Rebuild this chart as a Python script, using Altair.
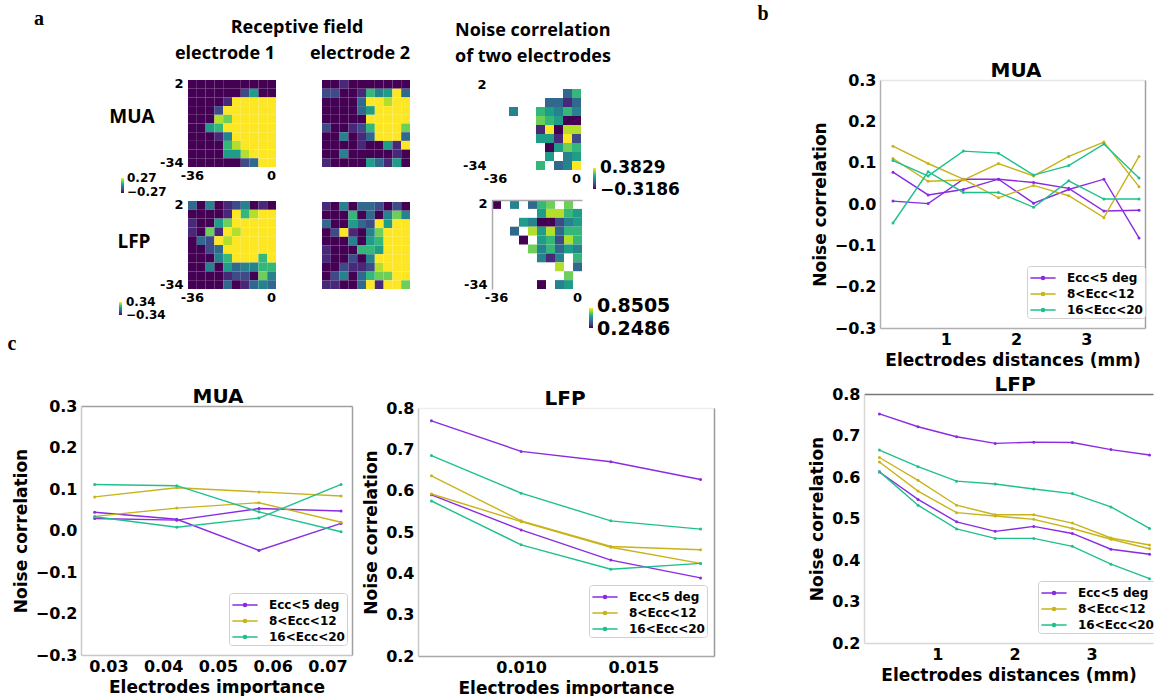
import altair as alt
import pandas as pd

W, H = 1154, 696

# ---------------- panel a: heat-map cells ----------------
cells_x = [-36, -32, -28, -24, -20, -16, -12, -8, -4, 0]
cells_y = [2, -2, -6, -10, -14, -18, -22, -26, -30, -34]

# colour level read per cell (0 = darkest viridis ... 9 = yellow), '.' = empty cell
rf_mua_e1 = ["0000000000", "0000002500", "0000199999", "0002999999", "0008799999",
             "0056999999", "0001499999", "0000689999", "0000558999", "0000002399"]
rf_mua_e2 = ["0010000000", "2200164593", "0000399899", "0000359999", "0000099999",
             "2001269997", "0040139993", "0000100519", "0040000010", "1000053150"]
rf_lfp_e1 = ["3040124010", "0000196899", "1005799999", "1071989999", "0329899999",
             "0023999999", "0004699969", "0040534466", "0000122074", "0000301343"]
rf_lfp_e2 = ["1040332020", "0006030474", "3005329599", "0291047999", "0004056999",
             "1000665999", "1002049999", "0021128999", "0240367799", "1100391997"]
nc_mua = ["..........", "........36", "......3313", "..4..65464", ".....76500",
          ".....19088", ".....55192", "......0576", "......5.45", ".....6.349"]
nc_lfp = ["0.4.367.7.", ".....58865", "...5400245", "..3.858366", "...0.56286",
          "....746354", ".....414.6", ".......8.3", "........7.", ".....0.45."]

mua_rf_range = [-0.27, 0.27]
lfp_rf_range = [-0.34, 0.34]
mua_nc_range = [-0.3186, 0.3829]
lfp_nc_range = [0.2486, 0.8505]

# ---------------- panels b and c: line data ----------------
groups = ["Ecc<5 deg", "8<Ecc<12", "16<Ecc<20"]
colors = ["#8a2be2", "#c8b31b", "#1fc08e"]

b_dist = [0.25, 0.75, 1.25, 1.75, 2.25, 2.75, 3.25, 3.75]
b_mua = [
    [[0.077, 0.022, 0.035, 0.060, 0.002, 0.035, 0.060, -0.082],
     [0.007, 0.001, 0.060, 0.060, 0.052, 0.038, -0.017, -0.015]],
    [[0.140, 0.098, 0.060, 0.015, 0.045, 0.020, -0.033, 0.115],
     [0.110, 0.055, 0.058, 0.098, 0.068, 0.115, 0.150, 0.042]],
    [[0.105, 0.068, 0.128, 0.123, 0.070, 0.093, 0.145, 0.063],
     [-0.046, 0.078, 0.028, 0.028, -0.008, 0.056, 0.012, 0.012]],
]
b_lfp = [
    [[0.752, 0.721, 0.697, 0.681, 0.684, 0.683, 0.666, 0.653],
     [0.612, 0.546, 0.492, 0.469, 0.481, 0.464, 0.426, 0.414]],
    [[0.647, 0.592, 0.532, 0.509, 0.509, 0.489, 0.453, 0.436],
     [0.636, 0.566, 0.514, 0.506, 0.498, 0.476, 0.450, 0.427]],
    [[0.665, 0.625, 0.590, 0.583, 0.571, 0.560, 0.528, 0.476],
     [0.613, 0.532, 0.475, 0.452, 0.452, 0.433, 0.390, 0.355]],
]
c_imp_mua = [0.0275, 0.0425, 0.0575, 0.0725]
c_mua = [
    [[0.044, 0.027, -0.048, 0.017], [0.029, 0.025, 0.053, 0.047]],
    [[0.081, 0.103, 0.093, 0.083], [0.034, 0.054, 0.067, 0.020]],
    [[0.111, 0.108, 0.045, -0.003], [0.033, 0.008, 0.030, 0.111]],
]
c_imp_lfp = [0.006, 0.010, 0.014, 0.018]
c_lfp = [
    [[0.769, 0.695, 0.670, 0.627], [0.590, 0.505, 0.432, 0.389]],
    [[0.636, 0.527, 0.465, 0.457], [0.592, 0.525, 0.463, 0.424]],
    [[0.685, 0.594, 0.527, 0.507], [0.575, 0.469, 0.410, 0.424]],
]

mua_ticks = [-0.3, -0.2, -0.1, 0.0, 0.1, 0.2, 0.3]
lfp_ticks = [0.2, 0.3, 0.4, 0.5, 0.6, 0.7, 0.8]


# ---------------- helpers ----------------
def grid_frame(grid, rng):
    lo, hi = rng
    recs = []
    for r, row in enumerate(grid):
        for c, ch in enumerate(row):
            if ch != ".":
                recs.append({"xc": cells_x[c], "yc": cells_y[r],
                             "v": lo + (hi - lo) * int(ch) / 9})
    return pd.DataFrame(recs)


HLAB = dict(labelFont="DejaVu Sans", labelFontSize=13, labelFontWeight="bold",
            labelColor="black")


def dom(color):
    return dict(domain=True, domainColor=color, domainWidth=1.5) if color else dict(domain=False)


def cbar(x, y, length, thick):
    # colour bar drawn by the legend; its end values are written as texts beside it
    return alt.Legend(orient="none", legendX=x, legendY=y, direction="vertical",
                      gradientLength=length, gradientThickness=thick,
                      labelOpacity=0, labelFontSize=1, title=None, padding=0,
                      gradientStrokeWidth=0)


def heat(grid, rng, box, show_axes=True, legend=None, frame=None):
    x0, y0, x1, y1 = box
    df = grid_frame(grid, rng)
    xs = alt.Scale(domain=cells_x, range=[x0, x1], paddingInner=0, paddingOuter=0)
    ys = alt.Scale(domain=cells_y, range=[y0, y1], paddingInner=0, paddingOuter=0)
    if show_axes:
        xa = alt.Axis(orient="bottom", offset=y1 - H, values=[-36, 0], title=None,
                      ticks=False, domain=False, labelAngle=0, labelPadding=2, **HLAB)
        ya = alt.Axis(orient="left", offset=-x0, values=[2, -34], title=None,
                      ticks=False, labelPadding=5, **dom(frame), **HLAB)
    else:
        xa = None
        ya = None
    col = alt.Color("v:Q", scale=alt.Scale(scheme="viridis", domain=list(rng)),
                    legend=legend)
    cells = alt.Chart(df).mark_rect().encode(
        x=alt.X("xc:O", scale=xs, axis=xa),
        y=alt.Y("yc:O", scale=ys, axis=ya),
        color=col,
    )
    if frame:
        top = alt.Chart(df).mark_rect(opacity=0).encode(
            x=alt.X("xc:O", scale=xs, axis=alt.Axis(orient="top", offset=-y0, labels=False,
                                                    ticks=False, title=None, **dom(frame))),
            y=alt.Y("yc:O", scale=ys, axis=alt.Axis(orient="right", offset=x1 - W, labels=False,
                                                    ticks=False, title=None, domain=False)),
        )
        return alt.layer(cells, top)
    return cells


def line_df(xs, series):
    recs = []
    for gi, name in enumerate(groups):
        for li, vals in enumerate(series[gi]):
            for xv, yv in zip(xs, vals):
                recs.append({"x": xv, "y": yv, "group": name, "line": f"{gi}-{li}"})
    return pd.DataFrame(recs)


AX = dict(labelFont="DejaVu Sans", labelFontSize=16, labelFontWeight="bold",
          labelColor="black", titleFont="DejaVu Sans", titleFontSize=17,
          titleFontWeight="bold", titleColor="black", ticks=False, grid=False,
          labelFlush=False)

SYM = "M-1.4,0H1.4M0.17,0A0.17,0.17,0,1,1,-0.17,0A0.17,0.17,0,1,1,0.17,0"


def line_panel(df, xdom, ydom, box, xvalues, xfmt, yvalues, xtitle, leg_xy, frame):
    x0, y0, x1, y1 = box
    left, bottom, topc, right = frame
    xs = alt.Scale(domain=xdom, range=[x0, x1], nice=False, zero=False)
    ys = alt.Scale(domain=ydom, range=[y1, y0], nice=False, zero=False)
    lines = alt.Chart(df).mark_line(
        strokeWidth=1.4, point=alt.OverlayMarkDef(size=9, filled=True)
    ).encode(
        x=alt.X("x:Q", scale=xs,
                axis=alt.Axis(orient="bottom", offset=y1 - H, values=xvalues, format=xfmt,
                              title=xtitle, labelPadding=3, titlePadding=5,
                              **dom(bottom), **AX)),
        y=alt.Y("y:Q", scale=ys,
                axis=alt.Axis(orient="left", offset=-x0, values=yvalues, format=".1f",
                              title="Noise correlation", labelPadding=4, titlePadding=5,
                              **dom(left), **AX)),
        color=alt.Color("group:N", scale=alt.Scale(domain=groups, range=colors),
                        legend=alt.Legend(orient="none", legendX=leg_xy[0], legendY=leg_xy[1],
                                          title=None, symbolType=SYM, symbolSize=324,
                                          symbolStrokeWidth=1.6, symbolOffset=4,
                                          labelFont="DejaVu Sans",
                                          labelFontSize=12, labelFontWeight="bold",
                                          labelColor="black", labelOffset=14, padding=2,
                                          rowPadding=0, strokeColor="#d0d0d0",
                                          fillColor="white", cornerRadius=3)),
        detail="line:N",
    )
    fr = alt.Chart(df).mark_point(opacity=0).encode(
        x=alt.X("x:Q", scale=xs,
                axis=alt.Axis(orient="top", offset=-y0, labels=False, ticks=False, title=None,
                              grid=False, **dom(topc))),
        y=alt.Y("y:Q", scale=ys,
                axis=alt.Axis(orient="right", offset=x1 - W, labels=False, ticks=False,
                              title=None, grid=False, **dom(right))),
    )
    return alt.layer(lines, fr)


def label(text, x, y, size, font="Open Sans", align="center", weight="bold",
          baseline="alphabetic"):
    return alt.Chart(pd.DataFrame({"t": [text]})).mark_text(
        font=font, fontSize=size, fontWeight=weight, align=align,
        baseline=baseline, color="black"
    ).encode(x=alt.value(x), y=alt.value(y), text="t:N")


def num(v, digits):
    return f"{v:.{digits}f}".replace("-", "\u2212")


def cbar_labels(rng, digits, x, y_top, y_bottom, size, font):
    return [
        label(num(rng[1], digits), x, y_top, size, font=font, align="left", baseline="middle"),
        label(num(rng[0], digits), x, y_bottom, size, font=font, align="left", baseline="middle"),
    ]


# ---------------- assemble ----------------
layers = [
    heat(rf_mua_e1, mua_rf_range, (188, 80, 276, 167), legend=cbar(121, 178, 15, 3)),
    heat(rf_mua_e2, mua_rf_range, (322, 80, 410, 167), show_axes=False),
    heat(nc_mua, mua_nc_range, (491, 80, 581, 170), legend=cbar(593, 168, 21, 3)),
    heat(rf_lfp_e1, lfp_rf_range, (188, 201, 276, 289), legend=cbar(119, 302, 13, 3)),
    heat(rf_lfp_e2, lfp_rf_range, (322, 202, 410, 289), show_axes=False),
    heat(nc_lfp, lfp_nc_range, (492, 200, 582, 289), legend=cbar(589, 308, 20, 4),
         frame="#aaaaaa"),
    line_panel(line_df(b_dist, b_mua), [0.065, 3.835], [-0.3, 0.3], (880, 80, 1145, 328),
               [1, 2, 3], "d", mua_ticks, "Electrodes distances (mm)", (1027, 266),
               ("#b0b0b0", "#b0b0b0", "#e6e6e6", "#a0a0a0")),
    line_panel(line_df(b_dist, b_lfp), [0.05, 3.795], [0.2, 0.8], (864, 394, 1153, 643),
               [1, 2, 3], "d", lfp_ticks, "Electrodes distances (mm)", (1038, 581),
               ("#d8d8d8", "#d8d8d8", "#777777", None)),
    line_panel(line_df(c_imp_mua, c_mua), [0.025, 0.0745], [-0.3, 0.3], (81, 406, 352, 655),
               [0.03, 0.04, 0.05, 0.06, 0.07], ".2f", mua_ticks, "Electrodes importance",
               (229, 593), ("#c8c8c8", "#c8c8c8", "#a0a0a0", "#a0a0a0")),
    line_panel(line_df(c_imp_lfp, c_lfp), [0.0054, 0.0186], [0.2, 0.8], (418, 408, 714, 656),
               [0.010, 0.015], ".3f", lfp_ticks, "Electrodes importance",
               (589, 585), ("#c8c8c8", "#a8a8a8", "#eeeeee", "#999999")),
    # titles and labels
    label("MUA", 1016, 77, 20, font="DejaVu Sans"),
    label("LFP", 1015, 391, 20, font="DejaVu Sans"),
    label("MUA", 218, 403, 20, font="DejaVu Sans"),
    label("LFP", 565, 405, 20, font="DejaVu Sans"),
    label("Receptive field", 297, 33, 18),
    label("electrode 1", 225, 59, 18),
    label("electrode 2", 360, 59, 18),
    label("Noise correlation", 455, 36, 18, align="left"),
    label("of two electrodes", 455, 62, 18, align="left"),
    label("MUA", 132, 123, 19),
    label("LFP", 134, 248, 19),
    label("a", 39, 25, 20, font="Liberation Serif"),
    label("b", 763, 20, 20, font="Liberation Serif"),
    label("c", 12, 350, 20, font="Liberation Serif"),
]
layers += cbar_labels(mua_rf_range, 2, 127, 178, 192, 12, "DejaVu Sans")
layers += cbar_labels(lfp_rf_range, 2, 126, 302, 315, 12, "DejaVu Sans")
layers += cbar_labels(mua_nc_range, 4, 600, 168, 190, 17, "DejaVu Sans")
layers += cbar_labels(lfp_nc_range, 4, 597, 306, 329, 19, "DejaVu Sans")

chart = alt.layer(*layers).resolve_scale(
    x="independent", y="independent", color="independent"
).properties(
    width=W, height=H, padding=0, autosize=alt.AutoSizeParams(type="none"),
    background="white",
).configure_view(stroke=None)

chart.save("out.html", embed_options={"renderer": "svg", "actions": False})
